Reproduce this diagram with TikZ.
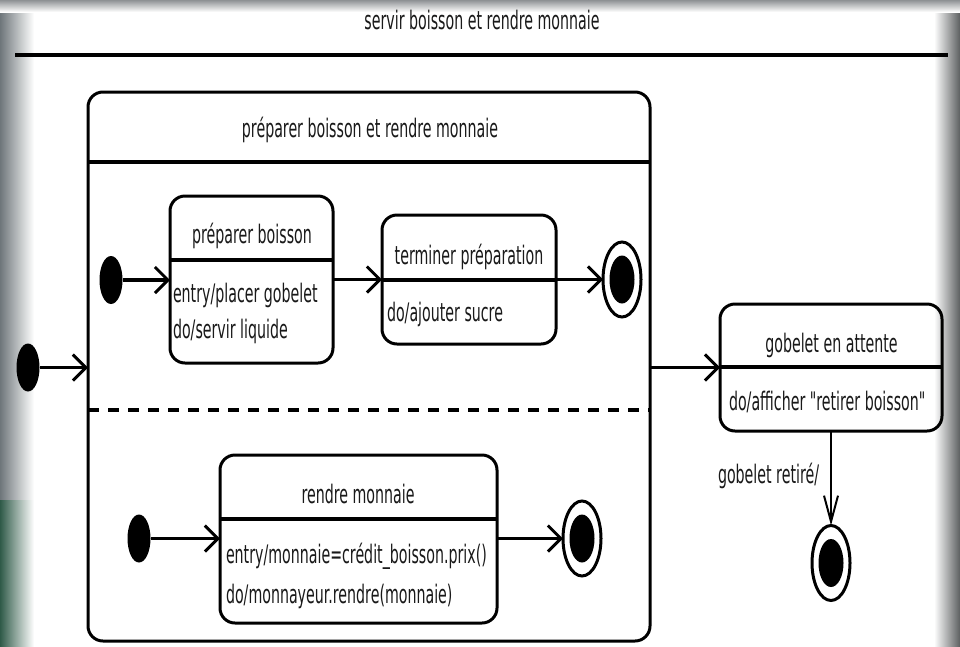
\documentclass[tikz,border=0pt]{standalone}
\usepackage{fontspec}
\newfontfamily\diafont[FakeStretch=0.557]{DejaVu Sans}
\usetikzlibrary{arrows.meta,shapes.geometric}
\definecolor{bgleft}{HTML}{6E767A}
\definecolor{bggreen}{HTML}{2F5A48}
\definecolor{bgright}{HTML}{5C5F60}
\definecolor{bgtop}{HTML}{8E9194}
\begin{document}
\begin{tikzpicture}[x=1pt,y=-1pt,
  every node/.style={inner sep=0pt, outer sep=0pt},
  lbl/.style={font=\diafont\fontsize{25.5}{30}\selectfont, text=black!90, anchor=base},
  lbll/.style={lbl, anchor=base west},
  stbox/.style={draw, line width=3pt, rounded corners=15pt, rectangle},
  sep/.style={line width=3.2pt},
  tr/.style={line width=3.2pt, -{Straight Barb[length=13pt,width=26pt,line width=3pt]}},
  trthin/.style={line width=2pt, -{Straight Barb[length=26pt,width=14pt,line width=2pt]}},
  initst/.style={ellipse, fill=black, minimum width=23pt, minimum height=48pt},
  finout/.style={ellipse, draw, line width=3pt, fill=white, minimum width=38pt, minimum height=75pt},
  finin/.style={ellipse, fill=black, minimum width=25pt, minimum height=48pt},
]
% background and page frame
\useasboundingbox (0,0) rectangle (960,646);
\fill[white] (0,0) rectangle (960,646);
\shade[left color=bgleft, right color=white] (0,0) rectangle (34,500);
\shade[left color=bggreen, right color=white] (0,500) rectangle (34,646);
\shade[left color=white, right color=bgright] (934,0) rectangle (960,646);
\shade[top color=bgtop, bottom color=white] (0,0) rectangle (960,12);

% outer state title
\node[lbl] (title) at (482,29) {servir boisson et rendre monnaie};
\draw[sep] (15,55) -- (948,55);

% composite state
\node[stbox, minimum width=562pt, minimum height=549pt] (comp) at (369,366.5) {};
\node[lbl] (comptitle) at (370,137) {préparer boisson et rendre monnaie};
\draw[sep] (88,162) -- (650,162);
\draw[sep, dash pattern=on 11pt off 9pt] (88,410) -- (650,410);

% region 1
\node[initst] (i1) at (111,280) {};
\node[stbox, minimum width=163pt, minimum height=167pt] (prep) at (251.5,279.5) {};
\draw[sep] (170,260) -- (333,260);
\node[lbl] (preptitle) at (252,243) {préparer boisson};
\node[lbll] (prep1) at (173,302) {entry/placer gobelet};
\node[lbll] (prep2) at (173,338) {do/servir liquide};

\node[stbox, minimum width=174pt, minimum height=129pt] (term) at (469,279.5) {};
\draw[sep] (382,280) -- (556,280);
\node[lbl] (termtitle) at (469,264) {terminer préparation};
\node[lbll] (term1) at (387,321.5) {do/ajouter sucre};

\node[finout] (f1) at (622,279.5) {};
\node[finin] (f1in) at (622,279.5) {};

% region 2
\node[initst] (i2) at (139,538.5) {};
\node[stbox, minimum width=277pt, minimum height=168pt] (rendre) at (358.5,539) {};
\draw[sep] (220,519) -- (497,519);
\node[lbl] (rendretitle) at (358,503) {rendre monnaie};
\node[lbll] (rendre1) at (226,563) {entry/monnaie=crédit\_boisson.prix()};
\node[lbll] (rendre2) at (226,603) {do/monnayeur.rendre(monnaie)};

\node[finout] (f2) at (582,538.5) {};
\node[finin] (f2in) at (582,538.5) {};

% outer initial state
\node[initst] (i0) at (28,367.5) {};

% waiting state
\node[stbox, minimum width=222pt, minimum height=127pt] (gob) at (831,367.5) {};
\draw[sep] (720,367) -- (942,367);
\node[lbl] (gobtitle) at (831.5,352) {gobelet en attente};
\node[lbll] (gob1) at (729,410) {do/afficher "retirer boisson"};

\node[finout] (f3) at (831,563) {};
\node[finin] (f3in) at (831,563) {};

% transitions
\draw[tr] (i0) -- (i0 -| comp.west);
\draw[tr] (i1) -- (i1 -| prep.west);
\draw[tr] (prep.east) -- (term.west);
\draw[tr] (term.east) -- (f1.west);
\draw[tr] (i2) -- (i2 -| rendre.west);
\draw[tr] (rendre.east |- f2) -- (f2.west);
\draw[tr] (comp.east |- gob.west) -- (gob.west);
\draw[trthin] (gob.south) -- (f3.north);
\node[lbll] (retire) at (718,483) {gobelet retiré/};
\end{tikzpicture}
\end{document}
